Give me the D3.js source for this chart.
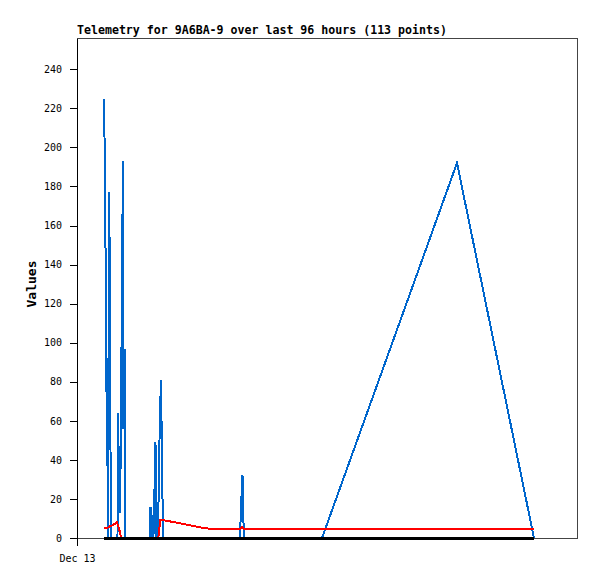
<!DOCTYPE html>
<html>
<head>
<meta charset="utf-8">
<script src="https://cdn.jsdelivr.net/npm/d3@7"></script>
<style>
  body { margin: 0; background: #fff; }
  text { font-family: "DejaVu Sans Mono", "Liberation Mono", monospace; }
</style>
</head>
<body>
<script>
// chart size and plot box
var width = 597;
var height = 579;
var margin = {top: 38, right: 20, bottom: 41, left: 77};

// series data, hours since Dec 13 00:00
var blueHours = [5.4, 5.6, 5.8, 6.0, 6.1, 6.2, 6.4, 6.6, 6.7, 6.9,
                 8.1, 8.2, 8.4, 8.6, 8.8, 9.0, 9.2, 9.3, 9.5, 9.6,
                 14.5, 14.6, 14.7, 14.9, 15.0, 15.2, 15.4, 15.5, 15.7, 15.8, 16.0, 16.2, 16.4, 16.6, 16.8, 17.0, 17.2,
                 32.6, 32.8, 33.0, 33.1, 33.2, 33.4,
                 49.0, 76.0, 91.4];
var blueValues = [225, 187, 113, 37, 49, 0, 177, 132, 45, 0,
                  0, 64, 32, 13, 56, 137, 193, 56, 97, 0,
                  0, 8, 16, 0, 12, 0, 4, 25, 49, 0, 12, 0, 36, 64, 81, 41, 0,
                  0, 16, 27, 32, 16, 0,
                  0, 192, 0];

var redHours = [5.4, 6.0, 6.6, 7.2, 7.8, 8.0, 8.6, 8.8, 9.0, 16.2, 16.4, 16.6,
                17.6, 18.6, 19.6, 20.6, 21.6, 22.6, 23.6, 24.6, 25.6, 27.0,
                32.6, 33.0, 33.4, 91.4];
var redValues = [5.1, 5.1, 6, 6.6, 7.7, 8, 3, 0.5, 0, 0, 2, 9,
                 9, 8.5, 8, 7.5, 7, 6.5, 6, 5.5, 5, 4.7,
                 4.7, 5.7, 4.8, 4.8];

var blackHours = [5.4, 91.4];
var blackValues = [0, 0];

var yTicks = [0, 20, 40, 60, 80, 100, 120, 140, 160, 180, 200, 220, 240];
var title = "Telemetry for 9A6BA-9 over last 96 hours (113 points)";
var yLabel = "Values";

var start = new Date(2023, 11, 13, 0, 0);
function toDate(h) { return new Date(start.getTime() + h * 3600000); }

var svg = d3.select("body")
            .append("svg")
            .attr("width", width)
            .attr("height", height);

var x = d3.scaleTime()
          .domain([start, toDate(100)])
          .range([margin.left, width - margin.right]);
var y = d3.scaleLinear()
          .domain([0, 256])
          .range([height - margin.bottom, margin.top]);

// plot frame
svg.append("rect")
   .attr("x", margin.left + 0.5)
   .attr("y", margin.top + 0.5)
   .attr("width", width - margin.left - margin.right)
   .attr("height", height - margin.top - margin.bottom)
   .attr("fill", "none")
   .attr("stroke", "#444")
   .attr("shape-rendering", "crispEdges");

// series lines
function drawSeries(hours, values, color, w) {
  var pts = hours.map(function(h, i) { return [toDate(h), values[i]]; });
  var line = d3.line()
               .x(function(d) { return x(d[0]); })
               .y(function(d) { return y(d[1]); });
  svg.append("path")
     .datum(pts)
     .attr("d", line)
     .attr("fill", "none")
     .attr("stroke", color)
     .attr("stroke-width", w)
     .attr("shape-rendering", "crispEdges");
}
drawSeries(blueHours, blueValues, "#0066cc", 2);
drawSeries(redHours, redValues, "#ff0000", 2);
drawSeries(blackHours, blackValues, "#000000", 3);

// axes
var yAxis = svg.append("g")
   .attr("transform", "translate(" + margin.left + ",0)")
   .call(d3.axisLeft(y).tickValues(yTicks).tickSize(7).tickSizeOuter(0).tickPadding(8));
var xAxis = svg.append("g")
   .attr("transform", "translate(0," + (height - margin.bottom) + ")")
   .call(d3.axisBottom(x).tickValues([start]).tickFormat(d3.timeFormat("%b %d"))
           .tickSize(8).tickSizeOuter(0).tickPadding(9));

svg.selectAll(".tick text")
   .attr("font-family", "DejaVu Sans Mono")
   .attr("font-size", 10)
   .attr("fill", "#000");
svg.selectAll(".tick line, .domain")
   .attr("stroke", "#000")
   .attr("shape-rendering", "crispEdges");
xAxis.select(".domain").remove();

// title and axis label
svg.append("text")
   .attr("x", margin.left)
   .attr("y", 34)
   .attr("font-size", 11.6)
   .attr("font-weight", "bold")
   .text(title);

svg.append("text")
   .attr("transform", "translate(31,284) rotate(-90)")
   .attr("text-anchor", "middle")
   .attr("dominant-baseline", "central")
   .attr("font-size", 13)
   .attr("font-weight", "bold")
   .text(yLabel);
</script>
</body>
</html>
